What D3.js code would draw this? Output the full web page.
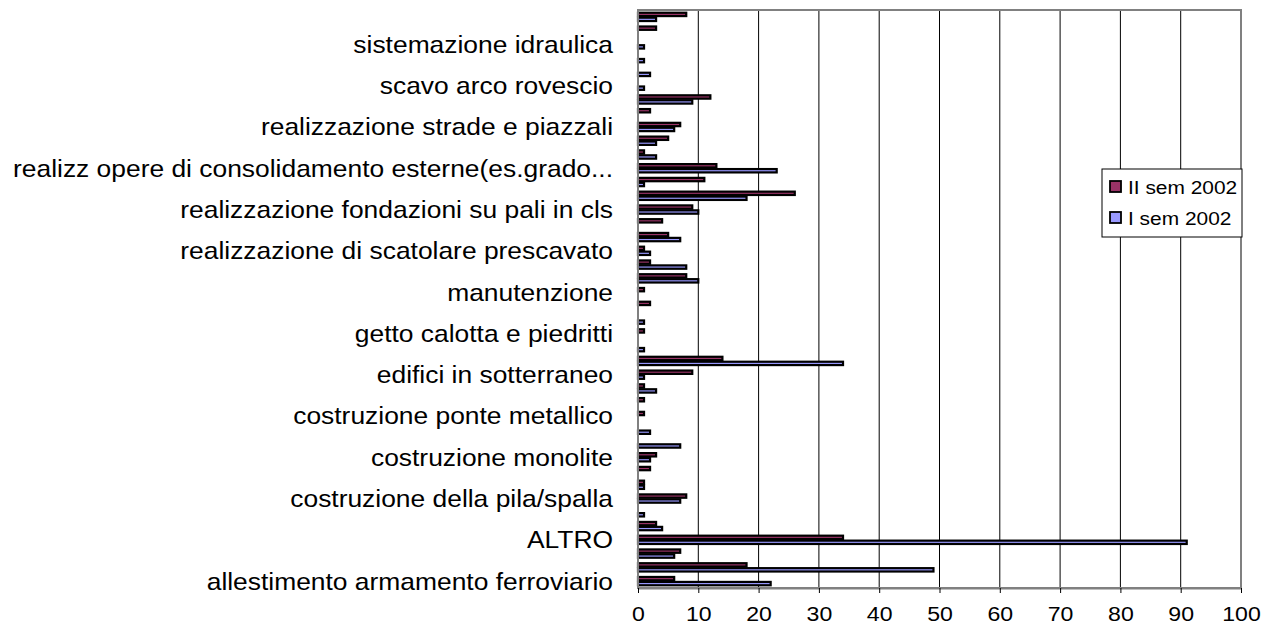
<!DOCTYPE html>
<html>
<head>
<meta charset="utf-8">
<script src="https://cdn.jsdelivr.net/npm/d3@7"></script>
<style>
  body { margin: 0; background: #fff; }
  text { font-family: "Liberation Sans", Arial, sans-serif; fill: #000; }
</style>
</head>
<body>
<script>
// categories listed top to bottom as drawn; "" = label skipped on the axis
var categories = [
  "", "", "sistemazione idraulica",
  "", "", "scavo arco rovescio",
  "", "", "realizzazione strade e piazzali",
  "", "", "realizz opere di consolidamento esterne(es.grado...",
  "", "", "realizzazione fondazioni su pali in cls",
  "", "", "realizzazione di scatolare prescavato",
  "", "", "manutenzione",
  "", "", "getto calotta e piedritti",
  "", "", "edifici in sotterraneo",
  "", "", "costruzione ponte metallico",
  "", "", "costruzione monolite",
  "", "", "costruzione della pila/spalla",
  "", "", "ALTRO",
  "", "", "allestimento armamento ferroviario"
];

var seriesNames = ["II sem 2002", "I sem 2002"];

var sem2 = [8, 3, 0, 0, 0, 0, 12, 2, 7, 5, 1, 13, 11, 26, 9, 4, 5, 1, 2, 8, 1,
            2, 0, 1, 0, 14, 9, 1, 1, 1, 0, 0, 3, 2, 1, 8, 0, 3, 34, 7, 18, 6];
var sem1 = [3, 0, 1, 1, 2, 1, 9, 0, 6, 3, 3, 23, 1, 18, 10, 0, 7, 2, 8, 10, 0,
            0, 1, 0, 1, 34, 1, 3, 0, 0, 2, 7, 2, 0, 1, 7, 1, 4, 91, 6, 49, 22];

var xTicks = [0, 10, 20, 30, 40, 50, 60, 70, 80, 90, 100];

var colors = ["#993366", "#9999FF"];

var W = 1265, H = 628;
var plot = { left: 638, right: 1241, top: 10, bottom: 588 };
var sx = 1.1; // text in the reference is a bit stretched horizontally

var svg = d3.select("body").append("svg")
    .attr("width", W)
    .attr("height", H);

var x = d3.scaleLinear()
    .domain([0, 100])
    .range([plot.left, plot.right]);

var y = d3.scaleBand()
    .domain(d3.range(categories.length))
    .range([plot.top, plot.bottom]);

var bh = y.bandwidth() * 0.36;

// vertical gridlines
svg.append("g")
    .selectAll("line")
    .data(xTicks.slice(1, -1))
    .enter()
    .append("line")
    .attr("x1", d => x(d)).attr("x2", d => x(d))
    .attr("y1", plot.top).attr("y2", plot.bottom)
    .attr("stroke", "#000")
    .attr("stroke-width", 1);

// plot border
svg.append("rect")
    .attr("x", plot.left).attr("y", plot.top)
    .attr("width", plot.right - plot.left)
    .attr("height", plot.bottom - plot.top)
    .attr("fill", "none")
    .attr("stroke", "#808080")
    .attr("stroke-width", 2);

// bars
var rows = categories.map((c, i) => ({ i: i, vals: [sem2[i], sem1[i]] }));

var grp = svg.selectAll(".cat")
    .data(rows)
    .enter()
    .append("g")
    .attr("class", "cat");

grp.selectAll("rect")
    .data(d => d.vals.map((v, k) => ({ i: d.i, k: k, v: v })))
    .enter()
    .filter(d => d.v > 0)
    .append("rect")
    .attr("x", x(0))
    .attr("y", d => y(d.i) + y.bandwidth() / 2 - bh + d.k * bh + 0.8)
    .attr("width", d => x(d.v) - x(0))
    .attr("height", bh - 1.6)
    .attr("fill", d => colors[d.k])
    .attr("stroke", "#000")
    .attr("stroke-width", 2.2);

// left axis line on top of bars
svg.append("line")
    .attr("x1", plot.left).attr("x2", plot.left)
    .attr("y1", plot.top).attr("y2", plot.bottom)
    .attr("stroke", "#808080")
    .attr("stroke-width", 2);

// x axis
var xAxis = svg.append("g")
    .attr("transform", "translate(0," + plot.bottom + ")")
    .call(d3.axisBottom(x).tickValues(xTicks).tickSize(5).tickPadding(13).tickSizeOuter(0));

xAxis.select(".domain")
    .attr("stroke", "#808080")
    .attr("stroke-width", 2);
xAxis.selectAll(".tick line").attr("stroke", "#000");
xAxis.selectAll(".tick text")
    .attr("font-size", 21)
    .attr("font-family", "Liberation Sans, Arial, sans-serif")
    .attr("transform", "scale(" + sx + ",1)");

// category labels
svg.append("g")
    .selectAll("text")
    .data(categories.map((c, i) => ({ c: c, i: i })).filter(d => d.c !== ""))
    .enter()
    .append("text")
    .attr("transform", d => "translate(613," + (y(d.i) + y.bandwidth() / 2) + ") scale(" + sx + ",1)")
    .attr("dy", "0.35em")
    .attr("text-anchor", "end")
    .attr("font-size", 24)
    .text(d => d.c);

// legend
var lg = svg.append("g").attr("transform", "translate(1102,169)");
lg.append("rect")
    .attr("width", 140).attr("height", 68)
    .attr("fill", "#fff")
    .attr("stroke", "#000")
    .attr("stroke-width", 1);

seriesNames.forEach(function (s, k) {
  lg.append("rect")
      .attr("x", 8).attr("y", 12 + k * 31)
      .attr("width", 11).attr("height", 11)
      .attr("fill", colors[k])
      .attr("stroke", "#000")
      .attr("stroke-width", 1.8);
  lg.append("text")
      .attr("transform", "translate(26," + (25 + k * 31) + ") scale(" + sx + ",1)")
      .attr("font-size", 19)
      .text(s);
});
</script>
</body>
</html>
